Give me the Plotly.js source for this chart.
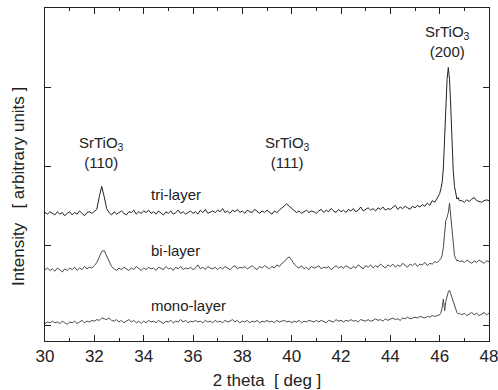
<!DOCTYPE html>
<html><head><meta charset="utf-8">
<script src="https://cdn.plot.ly/plotly-3.0.1.min.js"></script>
<style>html,body{margin:0;padding:0;background:#fff}#chart{width:498px;height:390px}</style>
</head><body><div id="chart"></div>
<script>
// 2 theta [deg]
const twoTheta = [
30.0,30.1,30.2,30.3,30.4,30.5,30.6,30.7,30.8,30.9,31.0,
31.1,31.2,31.3,31.4,31.5,31.6,31.7,31.8,31.9,32.0,
32.1,32.2,32.3,32.4,32.5,32.6,32.7,32.8,32.9,33.0,
33.1,33.2,33.3,33.4,33.5,33.6,33.7,33.8,33.9,34.0,
34.1,34.2,34.3,34.4,34.5,34.6,34.7,34.8,34.9,35.0,
35.1,35.2,35.3,35.4,35.5,35.6,35.7,35.8,35.9,36.0,
36.1,36.2,36.3,36.4,36.5,36.6,36.7,36.8,36.9,37.0,
37.1,37.2,37.3,37.4,37.5,37.6,37.7,37.8,37.9,38.0,
38.1,38.2,38.3,38.4,38.5,38.6,38.7,38.8,38.9,39.0,
39.1,39.2,39.3,39.4,39.5,39.6,39.7,39.8,39.9,40.0,
40.1,40.2,40.3,40.4,40.5,40.6,40.7,40.8,40.9,41.0,
41.1,41.2,41.3,41.4,41.5,41.6,41.7,41.8,41.9,42.0,
42.1,42.2,42.3,42.4,42.5,42.6,42.7,42.8,42.9,43.0,
43.1,43.2,43.3,43.4,43.5,43.6,43.7,43.8,43.9,44.0,
44.1,44.2,44.3,44.4,44.5,44.6,44.7,44.8,44.9,45.0,
45.1,45.2,45.3,45.4,45.5,45.6,45.7,45.8,45.9,46.0,
46.05,46.1,46.15,46.2,46.25,46.3,46.35,46.4,46.45,46.5,46.55,46.6,46.65,46.7,46.75,46.8,
46.9,47.0,47.1,47.2,47.3,47.4,47.5,47.6,47.7,47.8,47.9,48.0
];

// intensities (arbitrary units, offset stacked)
const triLayer = [
1.42,1.40,1.43,1.41,1.39,1.43,1.40,1.42,1.38,1.41,1.43,
1.39,1.42,1.40,1.44,1.41,1.38,1.42,1.43,1.41,1.44,
1.46,1.62,1.75,1.62,1.47,1.42,1.39,1.43,1.40,1.42,
1.44,1.41,1.39,1.43,1.42,1.45,1.40,1.43,1.41,1.44,
1.42,1.45,1.41,1.43,1.40,1.44,1.42,1.39,1.43,1.41,
1.44,1.40,1.42,1.45,1.41,1.43,1.40,1.42,1.44,1.41,
1.43,1.40,1.45,1.42,1.46,1.41,1.43,1.44,1.42,1.45,
1.43,1.47,1.42,1.44,1.41,1.45,1.43,1.46,1.42,1.44,
1.41,1.45,1.43,1.42,1.46,1.43,1.41,1.44,1.42,1.45,
1.43,1.40,1.44,1.42,1.45,1.48,1.50,1.53,1.50,1.47,
1.45,1.42,1.44,1.41,1.43,1.45,1.42,1.44,1.43,1.41,
1.44,1.46,1.42,1.45,1.43,1.47,1.44,1.42,1.46,1.43,
1.45,1.42,1.46,1.44,1.47,1.43,1.45,1.49,1.44,1.46,
1.48,1.45,1.47,1.44,1.48,1.46,1.49,1.45,1.47,1.46,
1.48,1.51,1.46,1.49,1.47,1.50,1.48,1.46,1.50,1.48,
1.51,1.49,1.52,1.50,1.54,1.51,1.57,1.55,1.60,1.66,
1.72,1.80,1.98,2.35,2.80,3.10,3.25,3.10,2.75,2.30,1.95,1.75,1.65,1.59,1.61,1.57,
1.57,1.55,1.58,1.56,1.59,1.61,1.57,1.56,1.55,1.57,1.58,1.57
];

const biLayer = [
0.70,0.72,0.69,0.71,0.68,0.72,0.70,0.67,0.71,0.69,0.72,
0.70,0.73,0.69,0.72,0.70,0.74,0.71,0.73,0.72,0.75,
0.79,0.86,0.93,0.94,0.87,0.79,0.74,0.71,0.69,0.72,
0.70,0.73,0.71,0.69,0.72,0.70,0.74,0.71,0.69,0.72,
0.70,0.73,0.71,0.72,0.69,0.73,0.71,0.70,0.74,0.71,
0.72,0.69,0.73,0.71,0.74,0.70,0.72,0.71,0.73,0.70,
0.72,0.76,0.71,0.73,0.70,0.74,0.72,0.71,0.73,0.70,
0.73,0.71,0.74,0.72,0.70,0.73,0.75,0.71,0.73,0.72,
0.74,0.71,0.73,0.75,0.72,0.70,0.74,0.72,0.75,0.73,
0.71,0.74,0.72,0.76,0.74,0.78,0.80,0.84,0.86,0.82,
0.77,0.74,0.72,0.75,0.71,0.73,0.70,0.74,0.72,0.73,
0.75,0.71,0.73,0.72,0.74,0.70,0.73,0.75,0.72,0.74,
0.72,0.75,0.73,0.71,0.74,0.72,0.76,0.73,0.71,0.75,
0.73,0.76,0.72,0.75,0.73,0.77,0.74,0.72,0.76,0.74,
0.77,0.73,0.76,0.74,0.78,0.75,0.73,0.77,0.75,0.78,
0.74,0.77,0.76,0.79,0.75,0.78,0.77,0.80,0.79,0.82,
0.84,0.88,0.98,1.15,1.32,1.36,1.42,1.54,1.38,1.15,0.98,0.88,0.84,0.81,0.82,0.80,
0.81,0.79,0.82,0.80,0.78,0.81,0.79,0.82,0.80,0.78,0.81,0.80
];

const monoLayer = [
0.02,0.04,0.03,0.05,0.03,0.04,0.02,0.05,0.03,0.01,0.04,
0.03,0.05,0.02,0.04,0.06,0.03,0.05,0.04,0.06,0.05,
0.07,0.06,0.09,0.08,0.07,0.09,0.06,0.05,0.07,0.04,
0.06,0.03,0.05,0.07,0.04,0.06,0.03,0.05,0.02,0.05,
0.03,0.06,0.04,0.05,0.03,0.06,0.04,0.02,0.05,0.04,
0.06,0.03,0.05,0.04,0.07,0.04,0.06,0.03,0.05,0.04,
0.06,0.04,0.05,0.03,0.06,0.04,0.05,0.03,0.06,0.04,
0.05,0.03,0.06,0.04,0.05,0.07,0.04,0.06,0.03,0.05,
0.04,0.06,0.03,0.05,0.04,0.06,0.03,0.05,0.04,0.06,
0.04,0.05,0.03,0.06,0.04,0.05,0.06,0.04,0.05,0.03,
0.05,0.04,0.06,0.03,0.05,0.04,0.06,0.05,0.04,0.06,
0.04,0.06,0.05,0.03,0.06,0.05,0.04,0.07,0.05,0.06,
0.04,0.06,0.05,0.07,0.05,0.06,0.04,0.07,0.06,0.05,
0.07,0.05,0.06,0.08,0.06,0.07,0.05,0.08,0.06,0.07,
0.09,0.07,0.08,0.06,0.09,0.08,0.10,0.08,0.09,0.10,
0.09,0.11,0.10,0.09,0.11,0.10,0.12,0.11,0.12,0.13,
0.16,0.22,0.33,0.18,0.30,0.38,0.42,0.44,0.39,0.33,0.28,0.24,0.20,0.16,0.14,0.15,
0.13,0.15,0.12,0.14,0.16,0.13,0.15,0.12,0.14,0.16,0.13,0.15
];

const seriesNames = ['tri-layer','bi-layer','mono-layer'];
const seriesLabelY = [1.65, 0.94, 0.25];
const peakLabels = ['SrTiO<sub>3</sub><br>(110)','SrTiO<sub>3</sub><br>(111)','SrTiO<sub>3</sub><br>(200)'];
const peakX = [32.3, 39.85, 46.3];
const peakLabelY = [2.18, 2.18, 3.58];
const yTicks = [0, 1, 2, 3];

const font = 'Liberation Sans, Arial, sans-serif';
const traces = [
  {x: twoTheta, y: triLayer, mode: 'lines', line: {color: '#222', width: 1}, name: seriesNames[0]},
  {x: twoTheta, y: biLayer, mode: 'lines', line: {color: '#4a4a4a', width: 1}, name: seriesNames[1]},
  {x: twoTheta, y: monoLayer, mode: 'lines', line: {color: '#4a4a4a', width: 1}, name: seriesNames[2]}
];

const annotations = [];
for (let i = 0; i < seriesNames.length; i++) {
  annotations.push({x: 34.2, y: seriesLabelY[i], xref: 'x', yref: 'y', text: seriesNames[i],
    showarrow: false, xanchor: 'left', yanchor: 'middle', font: {family: font, size: 15, color: '#222'}});
}
for (let i = 0; i < peakLabels.length; i++) {
  annotations.push({x: peakX[i], y: peakLabelY[i], xref: 'x', yref: 'y', text: peakLabels[i],
    showarrow: false, xanchor: 'center', yanchor: 'middle', align: 'center',
    font: {family: font, size: 15, color: '#222'}});
}
// y-axis title, placed as the reference shows it
annotations.push({x: -0.061, y: 0.465, xref: 'paper', yref: 'paper', textangle: -90,
  text: 'Intensity\u00a0\u00a0\u00a0[ arbitrary units ]', showarrow: false,
  xanchor: 'center', yanchor: 'middle', font: {family: font, size: 17, color: '#222'}});

const layout = {
  width: 498, height: 390,
  margin: {l: 45, r: 9, t: 8, b: 49},
  paper_bgcolor: '#fff', plot_bgcolor: '#fff',
  showlegend: false,
  font: {family: font, color: '#222'},
  xaxis: {
    range: [30, 48], dtick: 2, tick0: 30, ticks: 'inside', ticklen: 6, tickcolor: '#222',
    minor: {dtick: 1, ticks: 'inside', ticklen: 3, tickcolor: '#222'},
    showline: true, linecolor: '#222', linewidth: 1, mirror: 'allticks',
    showgrid: false, zeroline: false, ticklabeloverflow: 'allow',
    tickfont: {family: font, size: 17, color: '#222'},
    title: {text: '2 theta\u00a0\u00a0[ deg ]', font: {family: font, size: 17, color: '#222'}, standoff: 14}
  },
  yaxis: {
    range: [-0.2, 4.0], tickvals: yTicks, showticklabels: false, ticks: 'inside', ticklen: 6, tickcolor: '#222',
    showline: true, linecolor: '#222', linewidth: 1, mirror: 'allticks',
    showgrid: false, zeroline: false
  },
  annotations: annotations
};

Plotly.newPlot('chart', traces, layout, {displayModeBar: false, staticPlot: true});
</script>
</body></html>
